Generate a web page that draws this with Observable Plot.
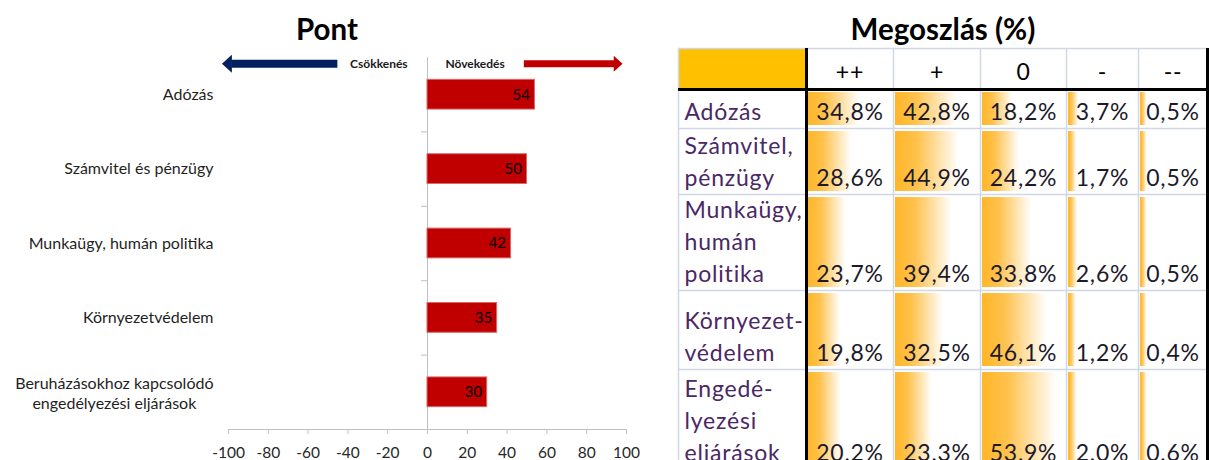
<!DOCTYPE html>
<html><head><meta charset="utf-8">
<script src="https://cdn.jsdelivr.net/npm/d3@7"></script>
<script src="https://cdn.jsdelivr.net/npm/@observablehq/plot@0.6"></script>
<style>
html,body{margin:0;padding:0;background:#fff;}
#page{position:relative;width:1209px;height:460px;overflow:hidden;font-family:Lato,sans-serif;}
.title{position:absolute;top:14px;font:bold 29.5px/29.5px Lato,sans-serif;text-align:center;color:#000;}
#left{position:absolute;left:0;top:0;width:640px;height:460px;}
#right{position:absolute;left:660px;top:0;width:549px;height:480px;}
</style></head><body>
<div id="page">
  <div id="left"></div>
  <div id="right"></div>
  <div class="title" style="left:0;width:654px">Pont</div>
  <div class="title" style="left:660px;width:566px">Megoszlás (%)</div>
</div>
<script>
// ---------- data: left chart ("Pont") ----------
const areas = ["Adózás", "Számvitel és pénzügy", "Munkaügy, humán politika", "Környezetvédelem", "Beruházásokhoz kapcsolódó\nengedélyezési eljárások"];
const points = [54, 50, 42, 35, 30];
const xTicks = [-100, -80, -60, -40, -20, 0, 20, 40, 60, 80, 100];
const directionLabels = ["Csökkenés", "Növekedés"];

// ---------- data: right table ("Megoszlás (%)") ----------
const tableHeaders = ["++", "+", "0", "-", "--"];
const tableRowLabels = ["Adózás", "Számvitel,\npénzügy", "Munkaügy,\nhumán\npolitika", "Környezet-\nvédelem", "Engedé-\nlyezési\neljárások"];
const shareVeryPositive = [34.8, 28.6, 23.7, 19.8, 20.2];
const sharePositive     = [42.8, 44.9, 39.4, 32.5, 23.3];
const shareNeutral      = [18.2, 24.2, 33.8, 46.1, 53.9];
const shareNegative     = [3.7, 1.7, 2.6, 1.2, 2.0];
const shareVeryNegative = [0.5, 0.5, 0.5, 0.4, 0.6];

// ---------- left chart ----------
const FONT = "Lato, sans-serif";
const xDomain = [-100, 100];
const barData = areas.map((a, i) => ({area: a, value: points[i]}));
const singleLine = barData.filter(d => !d.area.includes("\n"));
const multiLine = barData.filter(d => d.area.includes("\n"));

const LW = 640, LH = 460, mL = 228, mR = 14, mT = 57, mB = 31;
const step = (LH - mT - mB) / areas.length;
const labelSize = 16;

const cv = document.createElement("canvas").getContext("2d");
cv.font = `${labelSize}px Lato`;
const multiW = d3.max(multiLine.flatMap(d => d.area.split("\n")), s => cv.measureText(s).width) || 0;

const arrowHead = {
  draw(ctx, size) {
    const r = Math.sqrt(size / Math.PI);
    ctx.moveTo(r * 0.55, 0);
    ctx.lineTo(-r * 0.55, -r);
    ctx.lineTo(-r * 0.55, r);
    ctx.closePath();
  }
};
// annotation layout (x in chart units)
const arrowLayout = [
  {label: directionLabels[0], from: -45.3, to: -98.6, head: -100.8, color: "#002060", w: 8, r: 9, rot: 180, tx: -10, anchor: "end"},
  {label: directionLabels[1], from: 48.4, to: 94.2, head: 95.8, color: "#C00000", w: 7, r: 8, rot: 0, tx: 9, anchor: "start"}
];
const arrowDy = -31;
const topArea = () => areas[0];
const arrowMarks = arrowLayout.flatMap(a => [
  Plot.link([a], {x1: "from", x2: "to", y1: topArea, y2: topArea, dy: arrowDy, stroke: a.color, strokeWidth: a.w, strokeLinecap: "butt"}),
  Plot.dot([a], {x: "head", y: topArea, dy: arrowDy, r: a.r, rotate: a.rot, symbol: arrowHead, fill: a.color, stroke: "none"}),
  Plot.text([a], {x: "tx", y: topArea, dy: arrowDy, text: "label", textAnchor: a.anchor, fontWeight: "bold", fontSize: 12, fontFamily: FONT, fill: "#1a1a1a"})
]);

const left = Plot.plot({
  width: LW, height: LH,
  marginLeft: mL, marginRight: mR, marginTop: mT, marginBottom: mB,
  x: {domain: xDomain},
  y: {domain: areas, axis: null, paddingInner: 0.6, paddingOuter: 0.3, round: false},
  marks: [
    Plot.ruleX([0], {stroke: "#c0c0c0"}),
    Plot.ruleY(areas, {y: d => d, x1: -3, x2: 0, dy: step / 2, stroke: "#c0c0c0"}),
    Plot.ruleY([areas[areas.length - 1]], {y: d => d, x1: xDomain[0], x2: xDomain[1], dy: step / 2, stroke: "#c0c0c0"}),
    Plot.axisX({ticks: xTicks, tickFormat: d => String(d), tickSize: 5, tickPadding: 12, stroke: "#c0c0c0", fill: "#262626", fontSize: 15.5, fontFamily: FONT, label: null}),
    Plot.barX(barData, {x: "value", y: "area", fill: "#C00000", stroke: "#d86a6a", strokeWidth: 1}),
    Plot.text(barData, {x: "value", y: "area", text: d => String(d.value), textAnchor: "end", dx: -5, fontSize: 15, fontFamily: FONT, fill: "#000"}),
    Plot.text(singleLine, {y: "area", text: "area", frameAnchor: "left", textAnchor: "end", dx: -15, fontSize: labelSize, fontFamily: FONT, fill: "#1f1f1f"}),
    Plot.text(multiLine, {y: "area", text: "area", frameAnchor: "left", textAnchor: "middle", dx: -15 - multiW / 2, lineHeight: 1.25, fontSize: labelSize, fontFamily: FONT, fill: "#1f1f1f"}),
    ...arrowMarks
  ]
});
document.getElementById("left").appendChild(left);

// ---------- right table ----------
const TW = 549, TH = 480;
const tableLeft = 18, tableTop = 48;
const colWidths = [128, 87, 87, 86, 72, 69];
const rowHeights = [41, 39, 66, 96, 79, 100];
const colEdges = Array.from(d3.cumsum([tableLeft, ...colWidths]));
const rowEdges = Array.from(d3.cumsum([tableTop, ...rowHeights]));
const tRight = colEdges[colEdges.length - 1], tBottom = rowEdges[rowEdges.length - 1];

const series = [shareVeryPositive, sharePositive, shareNeutral, shareNegative, shareVeryNegative];
const cells = tableRowLabels.flatMap((row, r) => series.map((s, c) => ({row, r, c, value: s[r]})));
const barFrac = d3.scaleLinear().domain(d3.extent(cells, d => d.value)).range([0.1, 0.9]);
const fmt = v => v.toFixed(1).replace(".", ",") + "%";

const TFONT = "Lato, sans-serif";
const tSize = 23;
const gridColor = "#d0d7e5";

const right = Plot.plot({
  width: TW, height: TH,
  margin: 0,
  x: {domain: [0, TW], range: [0, TW], axis: null},
  y: {domain: [0, TH], range: [0, TH], axis: null},
  style: "letter-spacing:0.8px;",
  marks: [
    Plot.rect([tableHeaders], {x1: () => colEdges[0], x2: () => colEdges[1], y1: () => rowEdges[0], y2: () => rowEdges[1], fill: "#FFC000"}),
    Plot.rect(cells, {
      x1: d => colEdges[d.c + 1] + 2,
      x2: d => colEdges[d.c + 1] + 2 + barFrac(d.value) * (colWidths[d.c + 1] - 4),
      y1: d => rowEdges[d.r + 1] + 3,
      y2: d => rowEdges[d.r + 2] - 3,
      fill: "url(#dbar)"
    }),
    Plot.ruleY(rowEdges, {y: d => d, x1: () => tableLeft, x2: () => tRight, stroke: gridColor, strokeWidth: 1.5}),
    Plot.ruleX(colEdges, {x: d => d, y1: () => tableTop, y2: () => tBottom, stroke: gridColor, strokeWidth: 1.5}),
    Plot.ruleX([colEdges[1], tRight], {x: d => d, y1: () => tableTop, y2: () => tBottom, stroke: "#000", strokeWidth: 3}),
    Plot.ruleY([rowEdges[1]], {y: d => d, x1: () => tableLeft, x2: () => tRight, stroke: "#000", strokeWidth: 3}),
    Plot.text(tableHeaders, {x: (d, i) => (colEdges[i + 1] + colEdges[i + 2]) / 2, y: () => rowEdges[1] - 10, text: d => d, textAnchor: "middle", lineAnchor: "bottom", fontSize: tSize, fontFamily: TFONT, fill: "#000"}),
    Plot.text(tableRowLabels, {x: () => colEdges[0] + 6, y: (d, i) => rowEdges[i + 2] - 9, text: d => d, textAnchor: "start", lineAnchor: "bottom", lineHeight: 1.37, fontSize: tSize, fontFamily: TFONT, fill: "#4b2766"}),
    Plot.text(cells, {x: d => (colEdges[d.c + 1] + colEdges[d.c + 2]) / 2, y: d => rowEdges[d.r + 2] - 9, text: d => fmt(d.value), textAnchor: "middle", lineAnchor: "bottom", fontSize: tSize, fontFamily: TFONT, fill: "#1c1a2a"})
  ]
});
const ns = "http://www.w3.org/2000/svg";
const defs = document.createElementNS(ns, "defs");
const grad = document.createElementNS(ns, "linearGradient");
grad.setAttribute("id", "dbar");
grad.setAttribute("x1", "0"); grad.setAttribute("y1", "0");
grad.setAttribute("x2", "1"); grad.setAttribute("y2", "0");
[["0%", "#FFB628"], ["35%", "#FFC24D"], ["100%", "#FFFFFF"]].forEach(([o, c]) => {
  const s = document.createElementNS(ns, "stop");
  s.setAttribute("offset", o); s.setAttribute("stop-color", c);
  grad.appendChild(s);
});
defs.appendChild(grad);
right.insertBefore(defs, right.firstChild);
document.getElementById("right").appendChild(right);
</script>
</body></html>
